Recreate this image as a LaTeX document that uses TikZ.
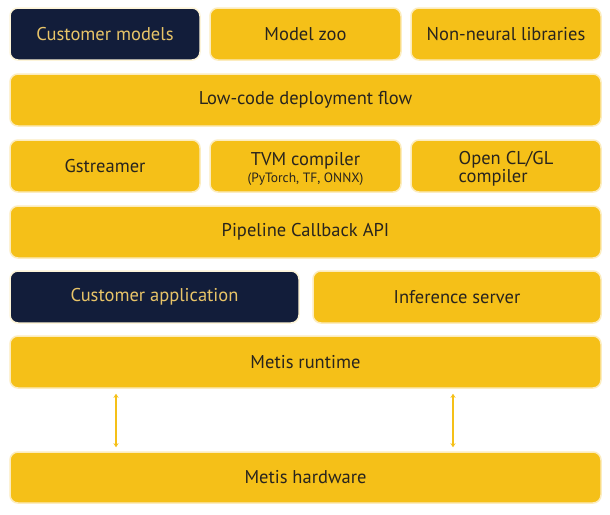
\documentclass[tikz,border=0pt]{standalone}
\usepackage{fontspec}
\setmainfont{PT Sans}
\usetikzlibrary{arrows.meta}
\definecolor{ayellow}{RGB}{245,192,24}
\definecolor{anavy}{RGB}{18,29,58}
\definecolor{atext}{RGB}{40,36,30}
\definecolor{agold}{RGB}{232,196,104}
\definecolor{aglow}{RGB}{252,236,190}
\tikzset{
  ybox/.style={rectangle, rounded corners=8pt, fill=ayellow, draw=aglow, line width=1.5pt, text=atext, font=\fontsize{18.5}{18}\selectfont, inner sep=0pt, align=center},
  nbox/.style={ybox, fill=anavy, draw=aglow!60!white, text=agold},
  link/.style={{Stealth[length=4pt,width=5pt]}-{Stealth[length=4pt,width=5pt]}, draw=ayellow, line width=1.2pt},
}
\newcommand{\boxat}[6]{%
  \node[#1, minimum width={#4-#2}, minimum height={#5-#3}] (#6) at ({(#2+#4)/2},{(#3+#5)/2})}
\begin{document}
\begin{tikzpicture}[x=1pt,y=-1pt]
\useasboundingbox[fill=white] (0,0) rectangle (610,514);
\boxat{nbox}{10}{8}{200}{60}{cm} {Customer models};
\boxat{ybox}{210}{8}{401}{60}{zoo} {Model zoo};
\boxat{ybox}{411}{8}{601}{60}{nn} {Non-neural libraries};
\boxat{ybox}{10}{74}{601}{126}{low} {Low-code deployment flow};
\boxat{ybox}{10}{140}{200}{192}{gst} {Gstreamer};
\node[ybox, minimum width=191, minimum height=52] (tvm) at (305.5,166) {};
\node[font=\fontsize{18.5}{18}\selectfont, text=atext, align=center, inner sep=0pt] (tvmt) at ([yshift=-2.5pt]tvm.center) {TVM compiler\\[-1pt]{\fontsize{13.5}{14}\selectfont (PyTorch, TF, ONNX)}};
\node[ybox, minimum width=190, minimum height=52] (ocl) at (506,166) {};
\node[font=\fontsize{18.5}{18}\selectfont, text=atext, align=left, inner sep=0pt] (oclt) at ([yshift=-2.5pt]ocl.center) {Open CL/GL\\compiler};
\boxat{ybox}{10}{206}{601}{258}{pipe} {Pipeline Callback API};
\boxat{nbox}{10}{271}{299}{323}{capp} {Customer application};
\boxat{ybox}{313}{271}{601}{323}{inf} {Inference server};
\boxat{ybox}{10}{336}{601}{388}{rt} {Metis runtime};
\boxat{ybox}{10}{452}{601}{503}{hw} {Metis hardware};
\coordinate (a1) at (116,0);
\coordinate (a2) at (453,0);
\draw[link] ([yshift=-5pt]rt.south -| a1) -- ([yshift=4pt]hw.north -| a1);
\draw[link] ([yshift=-5pt]rt.south -| a2) -- ([yshift=4pt]hw.north -| a2);
\end{tikzpicture}
\end{document}
